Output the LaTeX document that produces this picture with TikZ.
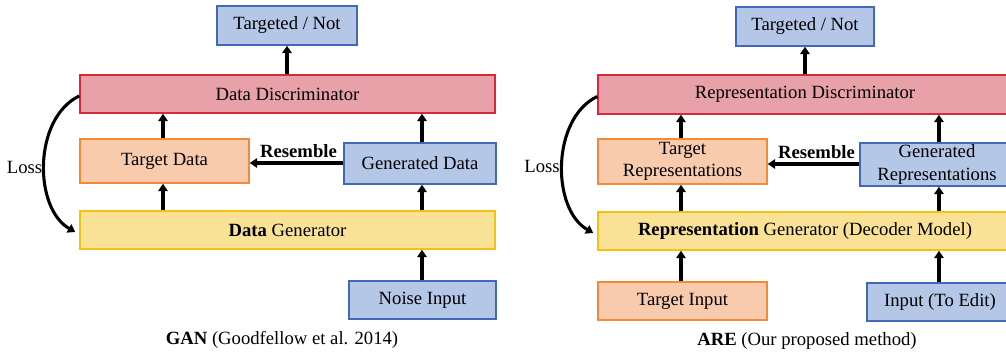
\documentclass[tikz,border=0pt]{standalone}
\usepackage{fontspec}
\setmainfont{Liberation Serif}
\usetikzlibrary{arrows.meta}
\definecolor{bfill}{HTML}{B4C7E7}
\definecolor{bline}{HTML}{4169B8}
\definecolor{rfill}{HTML}{E8A1A8}
\definecolor{rline}{HTML}{D42A3C}
\definecolor{ofill}{HTML}{F8CBAD}
\definecolor{oline}{HTML}{F28A38}
\definecolor{yfill}{HTML}{F9E196}
\definecolor{yline}{HTML}{F5C010}
\begin{document}
\begin{tikzpicture}[x=0.75pt,y=-0.75pt,
  box/.style={draw, line width=1.1pt, inner sep=0pt, align=center,
    font=\fontsize{14}{17}\selectfont},
  bbox/.style={box, fill=bfill, draw=bline},
  rbox/.style={box, fill=rfill, draw=rline},
  obox/.style={box, fill=ofill, draw=oline},
  ybox/.style={box, fill=yfill, draw=yline},
  arr/.style={line width=2.3pt, -{Triangle[width=7pt,length=5.5pt]}},
  lbl/.style={font=\fontsize{14}{17}\selectfont, inner sep=0pt},
  sz/.style 2 args={minimum width=#1*0.75pt, minimum height=#2*0.75pt}
]
\useasboundingbox (0,0) rectangle (1006,352);
\begin{scope}
\clip (0,0) rectangle (1006,352);
% ---------------- Left: GAN ----------------
\node[bbox, sz={140}{39}] (tn1) at (287,25.5) {Targeted / Not};
\node[rbox, sz={415}{38}] (dd1) at (287.5,94) {Data Discriminator};
\node[obox, sz={169}{44}] (td1) at (164.5,161) {Target Data};
\node[bbox, sz={152}{41}] (gd1) at (420,163.5) {Generated Data};
\node[ybox, sz={415}{38}] (dg1) at (287.5,230) {\textbf{Data} Generator};
\node[bbox, sz={147}{38}] (ni1) at (422.5,300) {Noise Input};
\node[lbl] (cap1) at (282,340) {\textbf{GAN} (Goodfellow et al. 2014)};
\node[lbl] (loss1) at (24.5,167) {Loss};
\node[lbl] (res1) at (298.5,151) {\textbf{Resemble}};

\draw[arr] (dd1.north -| tn1) -- (tn1.south);
\draw[arr] (td1.north -| 163,0) -- (dd1.south -| 163,0);
\draw[arr] (gd1.north -| 422,0) -- (dd1.south -| 422,0);
\draw[arr] (dg1.north -| 163,0) -- (td1.south -| 163,0);
\draw[arr] (dg1.north -| 422,0) -- (gd1.south -| 422,0);
\draw[arr] (ni1.north -| 422,0) -- (dg1.south -| 422,0);
\draw[arr] (gd1.west |- 0,163) -- (td1.east |- 0,163);
\draw[arr] ([yshift=-1.5pt]dd1.west) .. controls +(-46,22) and +(-42,-24) .. ([xshift=-3pt,yshift=-1.5pt]dg1.west);

% ---------------- Right: ARE ----------------
\node[bbox, sz={138}{39}] (tn2) at (805,26.5) {Targeted / Not};
\node[rbox, sz={414}{39}] (rd2) at (805,94.5) {Representation Discriminator};
\node[obox, sz={169}{45}] (tr2) at (682.5,161.5) {Target\\Representations};
\node[bbox, sz={154}{43}] (gr2) at (937,164.5) {Generated\\Representations};
\node[ybox, sz={414}{38}] (rg2) at (805,231) {\textbf{Representation} Generator (Decoder Model)};
\node[obox, sz={169}{38}] (ti2) at (682.5,301) {Target Input};
\node[bbox, sz={146}{38}] (ie2) at (940,302) {Input (To Edit)};
\node[lbl] (cap2) at (807,341) {\textbf{ARE} (Our proposed method)};
\node[lbl] (loss2) at (542,166) {Loss};
\node[lbl] (res2) at (816.5,152) {\textbf{Resemble}};

\draw[arr] (rd2.north -| tn2) -- (tn2.south);
\draw[arr] (tr2.north -| 681,0) -- (rd2.south -| 681,0);
\draw[arr] (gr2.north -| 939,0) -- (rd2.south -| 939,0);
\draw[arr] (rg2.north -| 681,0) -- (tr2.south -| 681,0);
\draw[arr] (rg2.north -| 939,0) -- (gr2.south -| 939,0);
\draw[arr] (ti2.north -| 681,0) -- (rg2.south -| 681,0);
\draw[arr] (ie2.north -| 939,0) -- (rg2.south -| 939,0);
\draw[arr] (gr2.west |- 0,164) -- (tr2.east |- 0,164);
\draw[arr] ([yshift=-1.5pt]rd2.west) .. controls +(-46,22) and +(-42,-24) .. ([xshift=-3pt,yshift=-1.5pt]rg2.west);
\end{scope}
\end{tikzpicture}
\end{document}
